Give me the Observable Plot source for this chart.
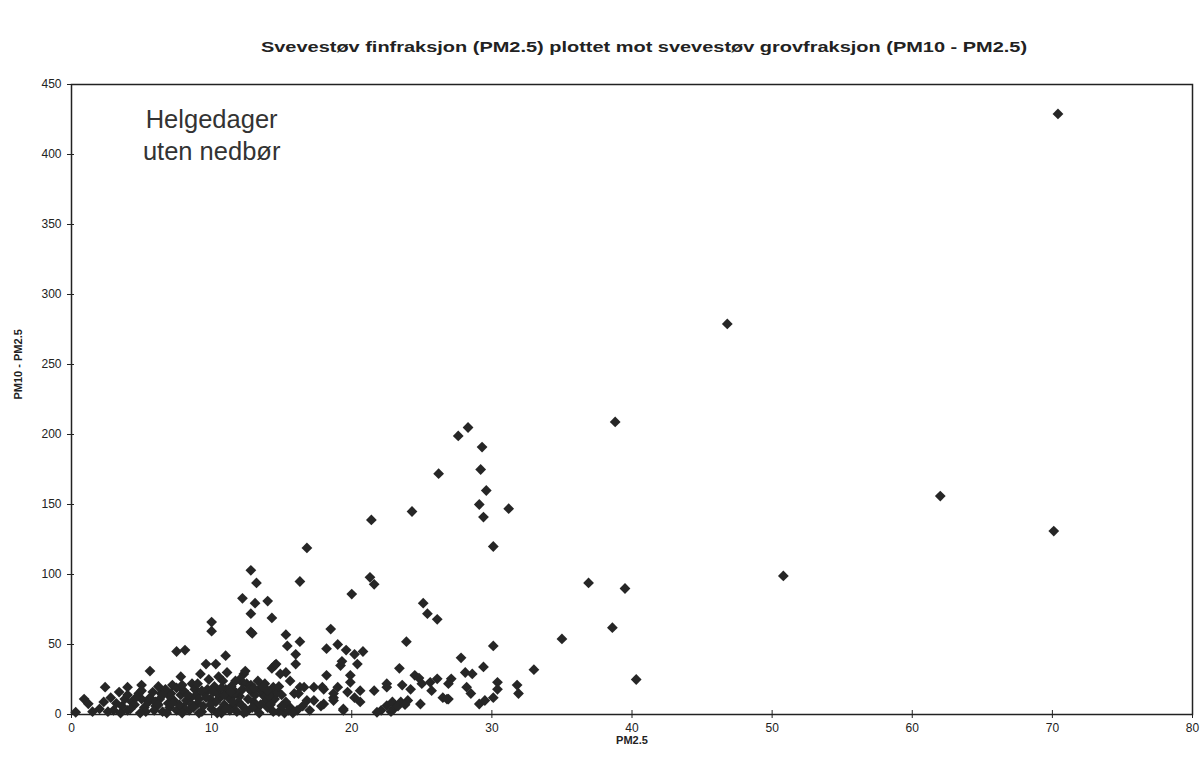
<!DOCTYPE html>
<html>
<head>
<meta charset="utf-8">
<script src="https://cdn.jsdelivr.net/npm/d3@7"></script>
<script src="https://cdn.jsdelivr.net/npm/@observablehq/plot@0.6"></script>
<style>
  html, body { margin: 0; padding: 0; background: #fff; }
  #wrap { position: relative; width: 1204px; height: 774px; font-family: "Liberation Sans", Arial, sans-serif; }
  #title { position: absolute; top: 38px; left: 644px; transform: translateX(-50%) scaleX(1.33); white-space: nowrap;
           font-weight: bold; font-size: 15px; color: #222; }
  #chart { position: absolute; top: 65px; left: 0; }
</style>
</head>
<body>
<div id="wrap">
  <div id="title">Svevestøv finfraksjon (PM2.5) plottet mot svevestøv grovfraksjon (PM10 - PM2.5)</div>
  <div id="chart"></div>
</div>
<script>
// PM2.5 (x) and PM10 - PM2.5 (y) values
const pm25 = [
  70.4, 46.8, 38.8, 62.0, 70.1, 50.8, 36.9, 39.5, 38.6, 35.0, 40.3, 33.0,
  28.3, 27.6, 29.3, 26.2, 29.2, 29.6, 29.1, 31.2, 29.4, 24.3, 21.4, 30.1, 16.8, 12.8,
  21.3, 21.6, 20.0, 16.3, 13.2, 12.2, 13.1, 14.0, 12.8, 14.3, 12.8, 12.9, 10.0, 10.0,
  15.3, 16.3, 15.4, 18.5, 18.2, 19.0, 19.6, 20.2, 20.8, 20.4, 19.2,
  25.1, 25.4, 26.1, 23.9, 30.1, 27.8, 29.4, 28.1, 28.6, 23.4, 24.5, 24.8, 27.1, 26.1,
  25.6, 23.6, 24.2, 22.5, 21.6, 25.7, 25.0, 26.5, 26.8, 28.2, 28.5, 29.1, 29.5,
  30.4, 30.4, 30.1, 31.8, 31.9, 24.9, 26.9, 26.9, 22.1, 22.5, 22.9, 23.5, 24.0, 21.8, 22.5,
  19.4, 20.6, 19.7, 18.0, 19.0, 19.9, 19.9, 18.2, 18.7, 20.2, 20.6, 18.0, 19.4,
  17.3, 18.7, 18.7, 17.9, 17.3, 16.3, 15.9, 15.6, 15.6, 16.1, 15.2, 16.8, 16.2, 16.6,
  14.4, 12.5, 12.2, 12.8, 16.0, 16.0, 15.3, 14.5, 14.3, 14.9, 14.6, 11.0, 10.3, 9.6,
  11.1, 12.3, 12.4, 9.2, 7.8, 7.5, 8.1, 5.6, 2.4, 0.9, 1.2, 3.4, 4.0, 5.0, 7.2, 7.1,
  2.3, 3.0, 0.3, 4.3, 5.0, 4.0, 5.6, 6.4, 6.9, 7.5, 8.0, 8.6, 13.7, 14.3, 19.3,
  8.5, 9.0, 9.5, 10.0, 10.5, 11.0, 11.5, 12.0, 12.5, 13.0, 13.5, 14.0, 14.5, 15.0,
  10.2, 9.8, 10.8, 11.6, 8.8, 8.2, 7.8, 6.0, 6.5, 5.2, 9.3, 10.7, 11.9, 12.9, 13.2,
  14.8, 11.3, 9.9, 12.2, 13.8, 10.4, 7.3, 6.2, 3.6, 4.8, 2.8,
  4.5, 5.5, 6.3, 7.0, 7.7, 8.4, 8.9, 9.4, 9.7, 10.3, 10.9, 11.2, 11.8, 12.1, 12.6,
  13.1, 13.4, 13.9, 14.2, 14.7, 15.3, 15.5, 10.6, 9.1, 8.0, 7.0, 6.7, 5.8, 5.3, 4.6,
  3.8, 3.2, 2.0, 1.5, 11.4, 12.7, 13.6, 14.1, 8.6, 9.6, 10.1, 11.7, 12.4, 10.9, 7.5,
  6.0, 16.5, 17.0, 17.8, 23.0, 23.3, 22.8, 23.8,
  2.6, 3.5, 4.2, 4.9, 5.9, 6.8, 7.2, 7.9, 8.7, 9.1, 9.9, 10.4, 11.0, 11.5, 12.3,
  12.9, 13.5, 14.4, 15.0, 15.8, 6.5, 8.3, 9.3, 10.7, 11.4, 13.0, 14.0, 5.0, 4.0,
  7.9, 9.0, 12.0, 10.5, 11.7, 13.3, 14.8, 6.2
];
const coarse = [
  429, 279, 209, 156, 131, 99, 94, 90, 62, 54, 25, 32,
  205, 199, 191, 172, 175, 160, 150, 147, 141, 145, 139, 120, 119, 103,
  98, 93, 86, 95, 94, 83, 79.5, 81, 72, 69, 59, 58, 66, 59.5,
  57, 52, 49, 61, 47, 50, 46, 43, 45, 36, 35,
  79.5, 72, 68, 52, 49, 40.5, 34, 30, 29, 33, 28, 26, 25.5, 25.5,
  23, 21, 18, 19.5, 17, 17, 22, 12, 11, 19.5, 15, 7.5, 10,
  23, 18, 12, 21, 15, 7.5, 22, 11, 3, 6.4, 9, 9, 10, 1.6, 22,
  4, 17, 16, 18, 19.5, 28, 23, 28, 12, 12, 9, 7.5, 3,
  10, 15, 10, 19.5, 19.5, 19.5, 15, 24, 5, 3, 1, 10, 15, 19.5,
  19.5, 22, 23, 21, 43, 36, 30, 35, 33, 29, 36, 42, 36, 36,
  30, 29, 31, 29, 27, 45, 46, 31, 19.5, 11, 7.6, 16, 19.5, 21, 21, 15,
  9, 3, 1.6, 9, 11, 3, 12, 15, 8, 3, 5, 22, 13.5, 16, 38,
  12, 8, 15, 4, 11, 18, 6, 13, 2, 9, 17, 5, 11, 14,
  20, 25, 24, 14, 18, 10, 14, 6, 2, 5, 2, 1, 9, 16, 4,
  2, 3, 11, 18, 22, 15, 10, 20, 6, 15, 12,
  7, 9, 11, 5, 7, 3, 14, 6, 18, 9, 7, 12, 2, 7, 11,
  14, 1, 10, 7, 16, 9, 3, 3, 11, 17, 13, 18, 16, 2, 12,
  11, 8, 4, 2, 20, 18, 20, 13, 7, 12, 16, 16, 4, 14, 19,
  9, 6, 3, 6, 4, 6, 2, 7,
  2, 1, 4, 1, 3, 1, 8, 1, 5, 1, 7, 1, 4, 9, 1,
  5, 7, 2, 6, 1, 14, 14, 17, 19, 16, 19, 17, 17, 14,
  21, 22, 25, 27, 24, 24, 20, 7
];
const xTicks = [0, 10, 20, 30, 40, 50, 60, 70, 80];
const yTicks = [0, 50, 100, 150, 200, 250, 300, 350, 400, 450];
const annotation = [{x: 10, y: 415, text: "Helgedager\nuten nedbør"}];

const points = pm25.map((x, i) => ({x, y: coarse[i]}));

const diamond = {
  draw(ctx, size) {
    const h = Math.sqrt(size / 2);
    ctx.moveTo(0, -h); ctx.lineTo(h, 0); ctx.lineTo(0, h); ctx.lineTo(-h, 0); ctx.closePath();
  }
};

const font = "Liberation Sans, Arial, sans-serif";
const chart = Plot.plot({
  width: 1204,
  height: 709,
  marginLeft: 71,
  marginRight: 12,
  marginTop: 19,
  marginBottom: 60,
  style: {fontFamily: font, background: "#fff", color: "#222"},
  x: {domain: [0, 80]},
  y: {domain: [0, 450]},
  marks: [
    Plot.frame({stroke: "#222", strokeWidth: 1.5}),
    Plot.axisX({ticks: xTicks, tickSize: 4, tickPadding: 5, fontSize: 12, label: null, tickFormat: d => d}),
    Plot.axisX({ticks: xTicks, tickSize: 4, dy: -4, tickFormat: () => "", label: null}),
    Plot.axisY({ticks: yTicks, tickSize: 4, tickPadding: 6, fontSize: 12, label: null, tickFormat: d => d}),
    Plot.axisY({ticks: yTicks, tickSize: 3, dx: 3, tickFormat: () => "", label: null}),
    Plot.text(["PM2.5"], {frameAnchor: "bottom", dy: 29, fontWeight: "bold", fontSize: 11, fill: "#222"}),
    Plot.text(["PM10 - PM2.5"], {frameAnchor: "left", dx: -53, rotate: -90, fontWeight: "bold", fontSize: 11, fill: "#222"}),
    Plot.text(annotation, {x: "x", y: "y", text: "text", fontSize: 25.5, lineHeight: 1.28, fill: "#333"}),
    Plot.dot(points, {x: "x", y: "y", r: 4.3, symbol: diamond, fill: "#262626", stroke: "none"})
  ]
});
document.getElementById("chart").appendChild(chart);
</script>
</body>
</html>
